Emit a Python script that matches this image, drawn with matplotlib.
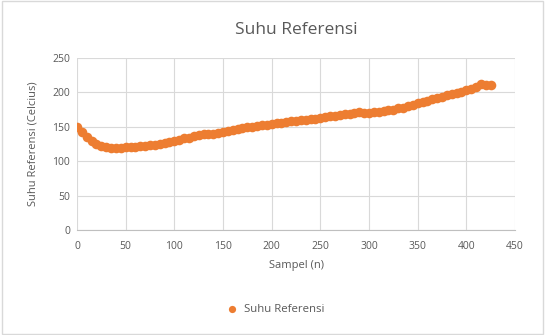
import matplotlib
matplotlib.use("Agg")
import matplotlib.pyplot as plt
from matplotlib.patches import Rectangle

plt.rcParams['font.family'] = ['Open Sans', 'DejaVu Sans']

samples = list(range(0, 430, 5))
suhu = [150, 143, 135, 129, 125, 122, 120, 119, 119, 119,
        120, 121, 121, 122, 122, 123, 124, 125, 127, 128,
        130, 131, 133, 134, 136, 138, 139, 139, 140, 141,
        143, 144, 146, 147, 148, 149, 150, 151, 152, 153,
        154, 155, 156, 157, 158, 159, 160, 160, 161, 162,
        163, 164, 165, 166, 167, 168, 169, 170, 171, 170,
        170, 171, 172, 173, 174, 175, 177, 178, 180, 182,
        184, 186, 188, 190, 192, 194, 196, 197, 199, 201,
        203, 205, 208, 212, 211, 211]
xticks = [0, 50, 100, 150, 200, 250, 300, 350, 400, 450]
yticks = [0, 50, 100, 150, 200, 250]

gray = '#595959'
fig = plt.figure(figsize=(5.45, 3.35), dpi=100)
fig.patches.append(Rectangle((0.004, 0.004), 0.992, 0.992, transform=fig.transFigure,
                             fill=False, edgecolor='#d9d9d9', linewidth=1))
ax = fig.add_axes([0.1413, 0.3134, 0.8037, 0.5135])
ax.scatter(samples, suhu, s=48, color='#ED7D31', zorder=3, label='Suhu Referensi', linewidths=0)
ax.set_xlim(0, 450)
ax.set_ylim(0, 250)
ax.set_xticks(xticks)
ax.set_yticks(yticks)
ax.grid(True, color='#d9d9d9', linewidth=0.8)
ax.set_axisbelow(True)
for s in ax.spines.values():
    s.set_visible(False)
ax.spines['bottom'].set_visible(True)
ax.spines['bottom'].set_color('#bfbfbf')
ax.tick_params(length=0, labelsize=7.5, labelcolor=gray, pad=5)
ax.tick_params(axis='x', pad=8)
ax.set_title('Suhu Referensi', fontsize=12.5, color=gray, pad=17)
ax.set_xlabel('Sampel (n)', fontsize=8, color=gray, labelpad=6)
ax.set_ylabel('Suhu Referensi (Celcius)', fontsize=8, color=gray, labelpad=10)
leg = fig.legend(loc='center', bbox_to_anchor=(0.5, 0.075), frameon=False,
                 fontsize=8.2, handletextpad=0.0, markerscale=0.75)
for t in leg.get_texts():
    t.set_color(gray)
fig.savefig('out.png', dpi=100)
